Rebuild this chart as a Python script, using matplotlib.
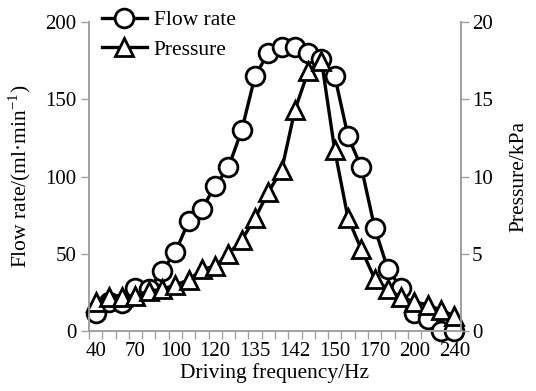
import numpy as np
import matplotlib
matplotlib.use("Agg")
import matplotlib.pyplot as plt
from matplotlib.lines import Line2D

plt.rcParams["font.family"] = ["Liberation Serif", "DejaVu Serif"]
plt.rcParams["mathtext.fontset"] = "custom"
plt.rcParams["mathtext.rm"] = "Liberation Serif"

# driving frequency categories (only every third one is labelled)
frequencies = [40, 50, 60, 70, 80, 90, 100, 105, 110, 120, 125, 130, 135, 138,
               140, 142, 144, 146, 150, 155, 160, 170, 180, 190, 200, 210, 220, 240]
flow_rate = [12, 19, 18, 28, 27, 39, 51, 71, 79, 94, 106, 130, 165, 180,
             184, 184, 180, 176, 165, 126, 106, 67, 40, 28, 12, 8, 0, 0]
pressure = [1.9, 2.2, 2.2, 2.3, 2.6, 2.7, 3.0, 3.3, 4.0, 4.2, 5.0, 5.9, 7.3, 9.0,
            10.4, 14.3, 16.8, 17.5, 11.7, 7.3, 5.3, 3.4, 2.7, 2.2, 1.9, 1.7, 1.35, 1.0]

GRAY = "#a0a0a0"
TICK_FS = 15
LABEL_FS = 15.5

fig = plt.figure(figsize=(5.36, 3.91), dpi=100)
ax = fig.add_axes([0.166, 0.153, 0.694, 0.791])
ax2 = ax.twinx()

x = np.arange(len(frequencies))
style = dict(color="black", lw=2.4, markersize=13.5, markeredgewidth=2,
             markerfacecolor="white", markeredgecolor="black")
ax.plot(x, flow_rate, marker="o", clip_on=False, **style)
ax2.plot(x, pressure, marker="^", clip_on=False, **style)

ax.set_xlim(-0.5, len(frequencies) - 0.5)
ax.set_ylim(0, 200)
ax2.set_ylim(0, 20)
ax.set_yticks([0, 50, 100, 150, 200])
ax2.set_yticks([0, 5, 10, 15, 20])

# tick marks between categories, labels on every third category
ax.set_xticks(np.arange(-0.5, len(frequencies)), labels=[])
lab_idx = x[::3]
ax.set_xticks(lab_idx, minor=True)
ax.set_xticklabels([str(frequencies[i]) for i in lab_idx], minor=True)
ax.tick_params(axis="x", which="minor", length=0, pad=8, labelsize=TICK_FS)
ax.tick_params(axis="x", which="major", length=6, color=GRAY, width=1)
ax.tick_params(axis="y", length=6, color=GRAY, width=1, labelsize=TICK_FS, pad=3)
ax2.tick_params(axis="y", length=6, color=GRAY, width=1, labelsize=TICK_FS, pad=2)

for a in (ax, ax2):
    a.spines["top"].set_visible(False)
    for s in ("left", "right", "bottom"):
        a.spines[s].set_color(GRAY)
        a.spines[s].set_linewidth(1.2)

ax.set_xlabel("Driving frequency/Hz", fontsize=LABEL_FS, labelpad=1)
ax.set_ylabel("Flow rate/(ml\u00b7min$^{-1}$)", fontsize=LABEL_FS)
ax.yaxis.set_label_coords(-0.15, 0.5)
ax2.set_ylabel("Pressure/kPa", fontsize=LABEL_FS)
ax2.yaxis.set_label_coords(1.13, 0.5)

handles = [Line2D([], [], marker="o", **style), Line2D([], [], marker="^", **style)]
ax2.legend(handles, ["Flow rate", "Pressure"], loc="upper left",
           bbox_to_anchor=(0.0, 1.08), frameon=False, fontsize=LABEL_FS,
           handlelength=2.1, handletextpad=0.3, labelspacing=0.45,
           borderaxespad=0.2)

fig.savefig("out.png", dpi=100)
